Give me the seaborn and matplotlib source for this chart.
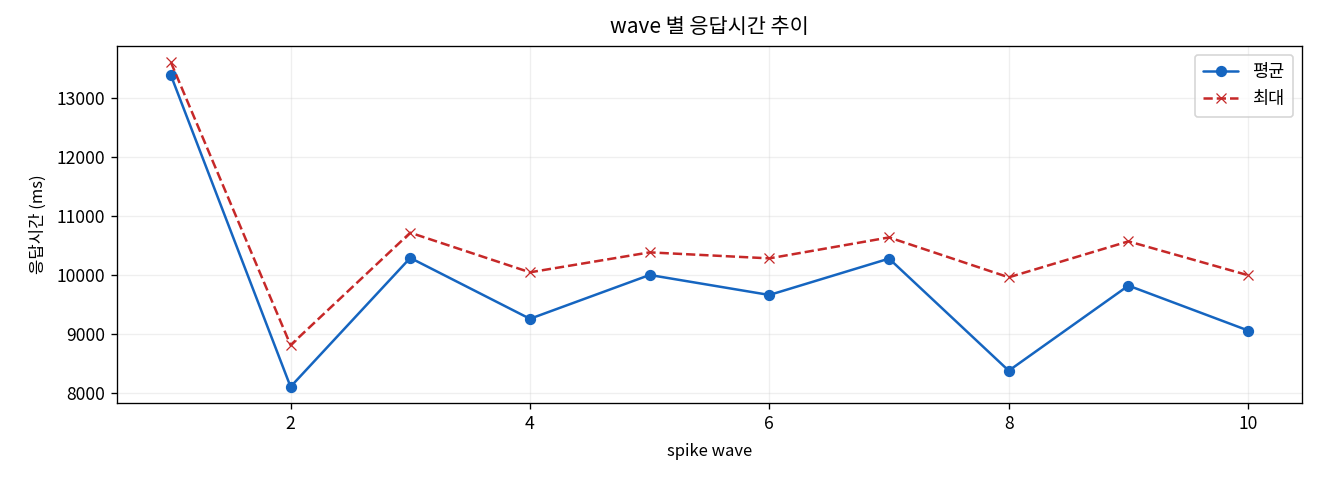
import matplotlib
matplotlib.use("Agg")
import matplotlib.pyplot as plt
import seaborn as sns
import pandas as pd

waves = [1, 2, 3, 4, 5, 6, 7, 8, 9, 10]
mean_ms = [13395, 8100, 10290, 9255, 10000, 9660, 10278, 8373, 9819, 9056]
max_ms = [13615, 8808, 10718, 10045, 10384, 10282, 10638, 9960, 10571, 9995]

sns.set_style("white")
plt.rcParams['font.family'] = ['Noto Sans CJK KR', 'DejaVu Sans']
plt.rcParams['axes.unicode_minus'] = False
for k in ["text.color", "axes.labelcolor", "xtick.color", "ytick.color"]:
    plt.rcParams[k] = "black"

df = pd.DataFrame({"wave": waves, "mean": mean_ms, "max": max_ms})

fig, ax = plt.subplots(figsize=(11, 4), dpi=120)
sns.lineplot(data=df, x="wave", y="mean", ax=ax, color="#1565C0", marker="o",
             markersize=6, markeredgecolor="#1565C0", linewidth=1.5, label="평균")
sns.lineplot(data=df, x="wave", y="max", ax=ax, color="#C62828", marker="x",
             markersize=6, markeredgecolor="#C62828", linewidth=1.5, linestyle="--", label="최대")

ax.set_title("wave 별 응답시간 추이", fontsize=12.5, pad=8)
ax.set_xlabel("spike wave", fontsize=10, labelpad=6)
ax.set_ylabel("응답시간 (ms)", fontsize=10, labelpad=6)
ax.tick_params(labelsize=10.5)
ax.grid(True, alpha=0.3)
for s in ax.spines.values():
    s.set_color("black")
    s.set_linewidth(0.8)
ax.tick_params(axis="both", which="both", length=3.5, width=0.8, color="black", direction="out", left=True, bottom=True)
ax.legend(loc="upper right", fontsize=10.5, borderpad=0.5)
fig.subplots_adjust(left=117/1320, right=1302/1320, top=1-46/480, bottom=1-403/480)
fig.savefig("out.png", dpi=120)
